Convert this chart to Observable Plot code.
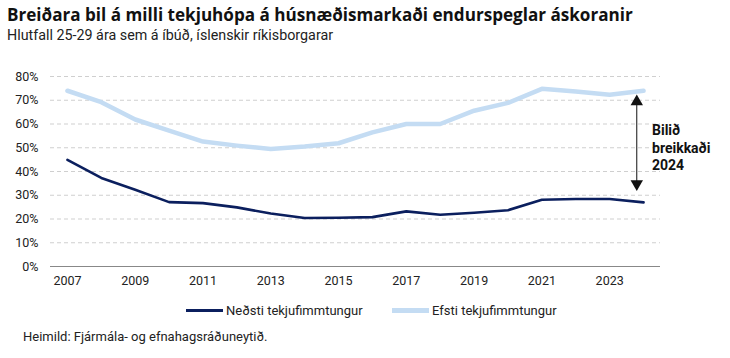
<!DOCTYPE html>
<html>
<head>
<meta charset="utf-8">
<script src="https://cdn.jsdelivr.net/npm/d3@7"></script>
<script src="https://cdn.jsdelivr.net/npm/@observablehq/plot@0.6"></script>
<style>
  html, body { margin: 0; padding: 0; background: #fff; }
  body { width: 730px; height: 358px; overflow: hidden; font-family: "Open Sans", sans-serif; color: #111; }
  #title { position: absolute; left: 7px; top: 3px; font-family: "Open Sans", sans-serif; font-weight: 700; font-size: 17.1px; white-space: nowrap; }
  #subtitle { position: absolute; left: 7px; top: 27px; font-family: Roboto, sans-serif; font-size: 14.3px; color: #222; white-space: nowrap; }
  #chart { position: absolute; left: 0; top: 60px; }
  #legend { position: absolute; left: 0; top: 303px; width: 730px; font-family: Roboto, sans-serif; font-size: 13px; color: #222; }
  .item { position: absolute; top: 0; white-space: nowrap; display: flex; align-items: center; }
  .sw { display: inline-block; width: 37px; margin-right: 3px; }
  #caption { position: absolute; left: 23px; top: 329px; font-family: Roboto, sans-serif; font-size: 13px; color: #222; white-space: nowrap; }
</style>
</head>
<body>
<div id="title">Breiðara bil á milli tekjuhópa á húsnæðismarkaði endurspeglar áskoranir</div>
<div id="subtitle">Hlutfall 25-29 ára sem á íbúð, íslenskir ríkisborgarar</div>
<div id="chart"></div>
<div id="legend"></div>
<div id="caption">Heimild: Fjármála- og efnahagsráðuneytið.</div>
<script>
const years = [2007,2008,2009,2010,2011,2012,2013,2014,2015,2016,2017,2018,2019,2020,2021,2022,2023,2024];
const lowest = [44.9,37.3,32.3,27.1,26.7,24.9,22.3,20.4,20.5,20.8,23.2,21.8,22.6,23.7,28.1,28.4,28.4,27.0];
const highest = [74.0,69.2,61.9,57.2,52.6,50.9,49.5,50.5,51.9,56.5,60.0,60.0,65.6,68.9,74.8,73.7,72.3,74.0];
const seriesNames = ["Neðsti tekjufimmtungur", "Efsti tekjufimmtungur"];
const seriesColors = ["#0b1f5e", "#c4dcf3"];
const yTicks = [0,10,20,30,40,50,60,70,80];
const xTicks = [2007,2009,2011,2013,2015,2017,2019,2021,2023];
const annotationText = "Bilið\nbreikkaði\n2024";
const arrowX = 2023.8;
const arrowTop = 71.0;
const arrowBottom = 33.2;
const annotationX = 2024.25;
const annotationY = 50.4;

const rowsLow = years.map((y, i) => ({year: y, value: lowest[i]}));
const rowsHigh = years.map((y, i) => ({year: y, value: highest[i]}));

const chart = Plot.plot({
  width: 730,
  height: 235,
  marginLeft: 50,
  marginRight: 70,
  marginTop: 16,
  marginBottom: 29,
  style: {fontFamily: "Roboto, sans-serif", fontSize: "12.5px", color: "#222", background: "transparent"},
  x: {domain: [2006.5, 2024.5], ticks: xTicks, tickFormat: d => String(d), tickSize: 0, tickPadding: 10, label: null},
  y: {domain: [0, 80], ticks: yTicks, tickFormat: d => d + "%", tickSize: 0, tickPadding: 12, label: null},
  marks: [
    Plot.gridY(yTicks.filter(d => d > 0), {stroke: "#cfcfcf", strokeOpacity: 1, strokeDasharray: "4,3"}),
    Plot.ruleY([0], {stroke: "#888", strokeWidth: 1}),
    Plot.line(rowsHigh, {x: "year", y: "value", stroke: seriesColors[1], strokeWidth: 4.5}),
    Plot.line(rowsLow, {x: "year", y: "value", stroke: seriesColors[0], strokeWidth: 2.6}),
    Plot.link([{x: arrowX, y1: arrowTop - 2, y2: arrowBottom + 2}], {x1: "x", x2: "x", y1: "y1", y2: "y2", stroke: "#111", strokeWidth: 1}),
    Plot.dot([{x: arrowX, y: arrowTop - 1.6}], {x: "x", y: "y", symbol: "triangle", r: 4.6, fill: "#111", stroke: null}),
    Plot.dot([{x: arrowX, y: arrowBottom + 1.6}], {x: "x", y: "y", symbol: "triangle", r: 4.6, fill: "#111", stroke: null, rotate: 180}),
    Plot.text([annotationText], {x: annotationX, y: annotationY, text: d => d, textAnchor: "start", lineAnchor: "middle", lineHeight: 1.28, fontWeight: "bold", fontSize: 14, fill: "#111"})
  ]
});
document.getElementById("chart").appendChild(chart);

const legend = document.getElementById("legend");
const legendPos = [186, 392];
seriesNames.forEach((name, i) => {
  const item = document.createElement("div");
  item.className = "item";
  item.style.left = legendPos[i] + "px";
  const sw = document.createElement("span");
  sw.className = "sw";
  sw.style.height = (i === 0 ? 3 : 4.5) + "px";
  sw.style.background = seriesColors[i];
  item.appendChild(sw);
  const t = document.createElement("span");
  t.textContent = name;
  item.appendChild(t);
  legend.appendChild(item);
});
</script>
</body>
</html>
